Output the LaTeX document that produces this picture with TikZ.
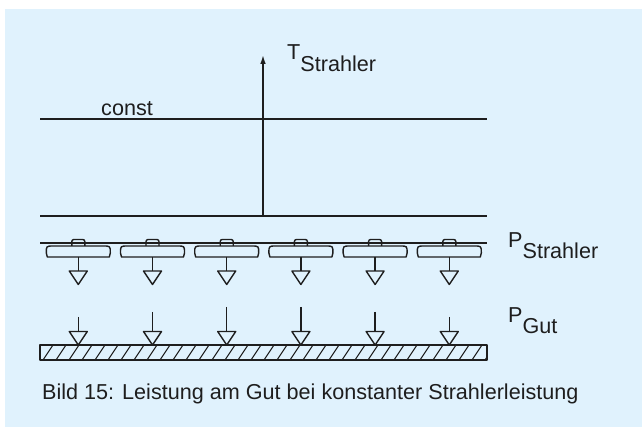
\documentclass[tikz,border=0pt]{standalone}
\usepackage{fontspec}
\setmainfont{Liberation Sans}
\usetikzlibrary{arrows.meta}
\definecolor{bgblue}{RGB}{224,242,253}
\definecolor{ink}{RGB}{30,30,30}

\begin{document}
\begin{tikzpicture}[x=1pt,y=-1pt,
        line/.style={line width=1.7pt,color=ink},
        lampline/.style={line width=1.4pt,color=ink,line join=round},
        hatch/.style={line width=1pt,color=ink},
        lbl/.style={anchor=base west,inner sep=0pt,text=ink,font=\fontsize{21.6}{26}\selectfont}]
        \useasboundingbox (0,0) rectangle (642,427);
        \fill[bgblue] (5,9) rectangle (642,427);

        % Strahlertemperatur
        \coordinate (cl) at (40,119);
        \coordinate (cr) at (487,119);
        \coordinate (bl) at (40,216);
        \coordinate (br) at (487,216);
        \coordinate (tbase) at (263,216);
        \coordinate (ttop) at (263,54);
        \draw[line] (cl) -- (cr);
        \draw[line] (bl) -- (br);
        \draw[line width=2.3pt,color=ink,-{Latex[length=10pt,width=5.5pt]}] (tbase) -- (ttop);
        \node[lbl] (const) at (101,116) {const};
        \node[lbl] (tstr) at (287,60) {T\raisebox{-11.5pt}{Strahler}};

        % Strahler
        \coordinate (pl) at (40,243);
        \coordinate (pr) at (487,243);
        \draw[line] (pl) -- (pr);
        \foreach \i in {0,...,5}{
            \pgfmathsetmacro{\lx}{78.3+74.2*\i}
            \draw[lampline,rounded corners=2pt] (\lx-6.5,246) -- (\lx-6.5,239.5) -- (\lx+6.5,239.5) -- (\lx+6.5,246);
            \draw[lampline] (\lx-31,257) -- (\lx+31,257) -- (\lx+32,253)
                .. controls (\lx+32,246) .. (\lx+25,246) -- (\lx-25,246)
                .. controls (\lx-32,246) .. (\lx-32,253) -- cycle;
            \coordinate (lamp\i) at (\lx,257);
            \coordinate (tri\i) at (\lx,271);
            \draw[lampline] (lamp\i) -- (tri\i);
            \draw[lampline] (\lx-9,271) -- (\lx+9,271) -- (\lx,284.5) -- cycle;
        }
        \node[lbl] (pstr) at (508,248) {P\raisebox{-11pt}{Strahler}};

        % Gut
        \foreach \i/\h in {0/317,1/312,2/307,3/307,4/312,5/317}{
            \pgfmathsetmacro{\lx}{78.3+74.2*\i}
            \coordinate (gtop\i) at (\lx,\h);
            \coordinate (gtri\i) at (\lx,331.5);
            \draw[lampline] (gtop\i) -- (gtri\i);
            \draw[lampline] (\lx-9,331.5) -- (\lx+9,331.5) -- (\lx,345) -- cycle;
        }
        \begin{scope}
            \clip (40,345) rectangle (487,360);
            \foreach \x in {30,43,...,490}
                \draw[hatch] (\x,360) -- (\x+10,345);
        \end{scope}
        \draw[lampline] (40,345) rectangle (487,360);
        \node[lbl] (pgut) at (508,323) {P\raisebox{-11pt}{Gut}};

        \node[lbl] (caption) at (42,399) {Bild 15: Leistung am Gut bei konstanter Strahlerleistung};
\end{tikzpicture}
\end{document}
